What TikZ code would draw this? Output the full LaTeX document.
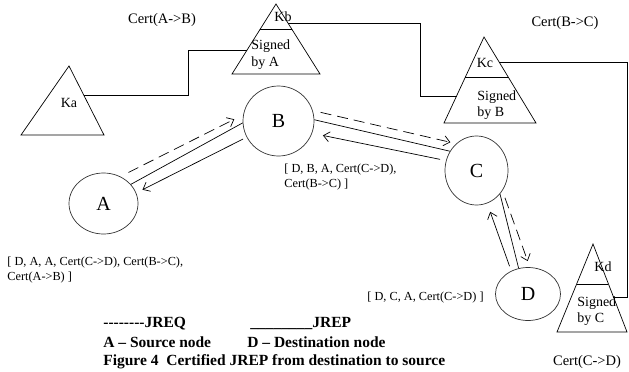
\documentclass[tikz,border=0pt]{standalone}
\usepackage{fontspec}
\newfontfamily\tnr{Liberation Serif}
\usetikzlibrary{shapes.geometric,arrows.meta,calc}

\tikzset{
  peer/.style={ellipse, draw=black!80, line width=0.7pt, inner sep=0pt, font=\tnr\fontsize{20}{20}\selectfont},
  keylabel/.style={font=\tnr\fontsize{14}{16.5}\selectfont, inner sep=0pt, align=left},
  certlabel/.style={font=\tnr\fontsize{14.5}{16}\selectfont, inner sep=0pt},
  routeinfo/.style={font=\tnr\fontsize{12.3}{14.5}\selectfont, inner sep=0pt, align=left, anchor=west},
  legend/.style={font=\tnr\bfseries\fontsize{15.5}{18}\selectfont, inner sep=0pt, anchor=base west},
  jreq/.style={dash pattern=on 11pt off 6pt, -{Straight Barb[length=6pt,width=10pt]}},
  jrep/.style={-{Straight Barb[length=6pt,width=10pt]}},
}

\begin{document}
\begin{tikzpicture}[x=1pt, y=-1pt, line width=0.7pt]

\path[fill=white] (0,0) rectangle (629,372);
\useasboundingbox (0,0) rectangle (629,372);

\path (69,66) coordinate(Ka1);
\path (21,135) coordinate(Ka2);
\path (104,135) coordinate(Ka3);

\path (276,4) coordinate(Kb1);
\path (232,74) coordinate(Kb2);
\path (320,74) coordinate(Kb3);

\path (484,37) coordinate(Kc1);
\path (444,123) coordinate(Kc2);
\path (536,123) coordinate(Kc3);

\path (593,244) coordinate(Kd1);
\path (557,332) coordinate(Kd2);
\path (627,332) coordinate(Kd3);

\path ($(Ka1)!0.42!(Ka3)$) coordinate(KaOut);
\path ($(Kb1)!0.657!(Kb2)$) coordinate(KbIn);
\path ($(Kb1)!0.271!(Kb3)$) coordinate(KbOut);
\path ($(Kc1)!0.686!(Kc2)$) coordinate(KcIn);
\path ($(Kc1)!0.291!(Kc3)$) coordinate(KcOut);
\path ($(Kd1)!0.602!(Kd3)$) coordinate(KdIn);

\draw (Ka1)--(Ka2)--(Ka3)--cycle;
\draw (Kb1)--(Kb2)--(Kb3)--cycle;
\draw (Kc1)--(Kc2)--(Kc3)--cycle;
\draw (Kd1)--(Kd2)--(Kd3)--cycle;

\draw ($(Kb1)!0.357!(Kb2)$) -- ($(Kb1)!0.357!(Kb3)$);
\draw ($(Kc1)!0.465!(Kc2)$) -- ($(Kc1)!0.465!(Kc3)$);
\draw ($(Kd1)!0.4545!(Kd2)$) -- ($(Kd1)!0.4545!(Kd3)$);

\draw (KaOut) -- ++(104.3,0) |- (KbIn);
\draw (KbOut) -- ++(132,0) |- (KcIn);
\draw (KcOut) -- ++(128,0) |- (KdIn);

\node[keylabel] (KaText) at (69,103) {Ka};
\node[keylabel] (KbText) at (283,17) {Kb};
\node[keylabel, anchor=west] (KbSign) at (251,54.5) {Signed\\by A};
\node[keylabel] (KcText) at (485,63) {Kc};
\node[keylabel, anchor=west] (KcSign) at (477,105) {Signed\\by B};
\node[keylabel] (KdText) at (603,267) {Kd};
\node[keylabel, anchor=west] (KdSign) at (577,311) {Signed\\by C};

\node[peer, minimum width=69pt, minimum height=61pt] (A) at (103.5,203.5) {A};
\node[peer, minimum width=71pt, minimum height=70pt] (B) at (278.5,121) {B};
\node[peer, minimum width=63pt, minimum height=69pt] (C) at (476.5,170.5) {C};
\node[peer, minimum width=65pt, minimum height=53pt] (D) at (528,294) {D};

\draw[jreq, shorten <=9pt, shorten >=10pt] (A.58) -- (B.170);
\draw (A.35) -- (B.183);
\draw[jrep, shorten <=4pt, shorten >=7pt] (B.207) -- (A.18);

\draw[jreq, shorten <=8pt, shorten >=6pt] (B.17) -- (C.127);
\draw (B.2) -- (C.144);
\draw[jrep, shorten <=6pt, shorten >=11pt] (C.162) -- (B.-20);

\draw[jreq, shorten <=7.5pt, shorten >=6.5pt] (C.-38) -- (D.86);
\draw (C.-45) -- (D.110);
\draw[jrep, shorten <=5pt, shorten >=9pt] (D.126) -- (C.-72);

\node[certlabel] (CertAB) at (162,20) {Cert(A->B)};
\node[certlabel] (CertBC) at (565,23) {Cert(B->C)};
\node[certlabel] (CertCD) at (587,362) {Cert(C->D)};

\node[routeinfo] (RouteA) at (7,270) {[ D, A, A, Cert(C->D), Cert(B->C),\\Cert(A->B) ]};
\node[routeinfo] (RouteB) at (284,177) {[ D, B, A, Cert(C->D),\\Cert(B->C) ]};
\node[routeinfo] (RouteD) at (367,298) {[ D, C, A, Cert(C->D) ]};

\node[legend] (ReqKey) at (103,327) {-{}-{}-{}-{}-{}-{}-{}-JREQ};
\node[legend] (RepKey) at (250,327) {\_\_\_\_\_\_\_\_JREP};
\node[legend] (SrcKey) at (103,347) {A – Source node};
\node[legend] (DstKey) at (247,347) {D – Destination node};
\node[legend] (Caption) at (103,365) {Figure 4~~Certified JREP from destination to source};

\end{tikzpicture}
\end{document}
